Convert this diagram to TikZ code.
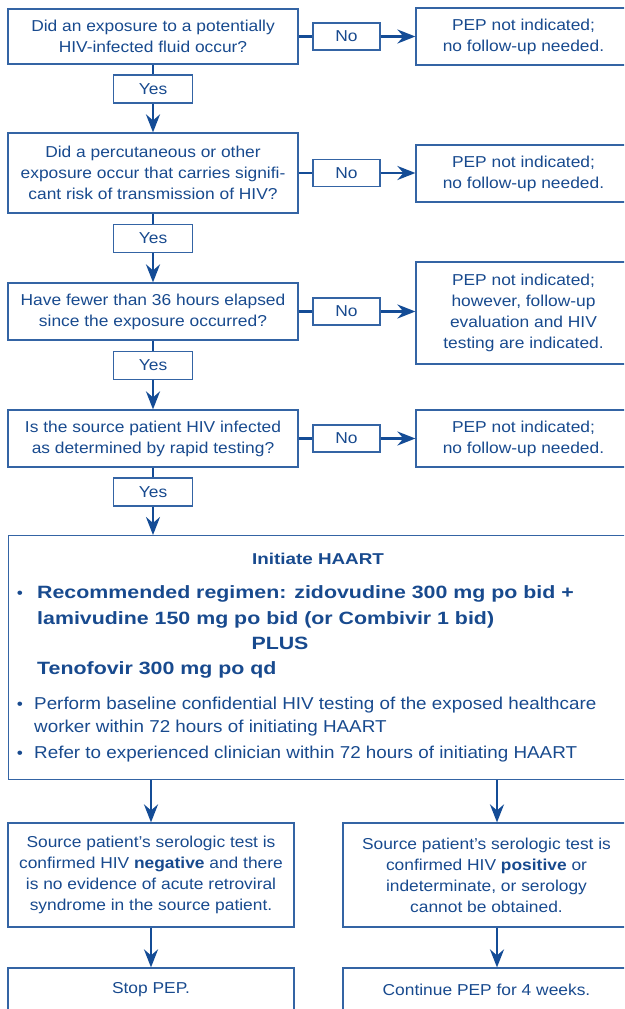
\documentclass[tikz,border=0pt]{standalone}
\usepackage{fontspec}
\setmainfont{Liberation Sans}[FakeStretch=1.1]
\newfontfamily\bulfam{Liberation Sans}[FakeStretch=1.095]
\newfontfamily\hbfam{Liberation Sans}[FakeStretch=1.2]
\usetikzlibrary{arrows.meta}
\definecolor{txtblue}{RGB}{24,74,142}
\definecolor{lnblue}{RGB}{20,76,150}
\definecolor{bxblue}{RGB}{52,100,164}
\newcommand\boxfs{\fontsize{15.8}{21}\selectfont}
\newcommand\bulfs{\bulfam\fontsize{17.2}{23}\selectfont}
\newcommand\hbfs{\hbfam\bfseries\fontsize{17.8}{25.5}\selectfont}
\newcommand\headfs{\hbfam\bfseries\fontsize{15.7}{19}\selectfont}
\tikzset{
  box/.style={draw=bxblue, line width=1.2pt, text=txtblue, align=center, inner sep=0pt, font=\boxfs},
  lab/.style={box, minimum width=67pt, minimum height=27pt},
  yeslab/.style={box, minimum width=79pt, minimum height=28pt},
  qbox/.style={box, minimum width=290pt},
  rbox/.style={box, minimum width=215pt},
  ln/.style={draw=lnblue, line width=2.6pt},
  arr/.style={ln, -{Stealth[length=18pt,width=14pt,inset=6pt]}},
  txt/.style={text=txtblue, inner sep=0pt},
}
\begin{document}
\begin{tikzpicture}[x=1pt,y=-1pt]
\useasboundingbox (0,0) rectangle (624,1009);
\clip (0,0) rectangle (624,1009);
% row 1
\node[qbox, minimum height=55pt] (q1) at (153,36.5) {Did an exposure to a potentially\\HIV-infected fluid occur?};
\node[lab] (no1) at (346.5,36.5) {No};
\node[rbox, minimum height=57pt] (r1) at (523.5,36.5) {PEP not indicated;\\no follow-up needed.};
\node[yeslab] (y1) at (153,89) {Yes};
% row 2
\node[qbox, minimum height=80pt] (q2) at (153,173) {Did a percutaneous or other\\exposure occur that carries signifi-\\cant risk of transmission of HIV?};
\node[lab] (no2) at (346.5,173) {No};
\node[rbox, minimum height=57pt] (r2) at (523.5,173.5) {PEP not indicated;\\no follow-up needed.};
\node[yeslab] (y2) at (153,238.5) {Yes};
% row 3
\node[qbox, minimum height=57pt] (q3) at (153,311.5) {Have fewer than 36 hours elapsed\\since the exposure occurred?};
\node[lab] (no3) at (346.5,311.5) {No};
\node[rbox, minimum height=102pt] (r3) at (523.5,313) {PEP not indicated;\\however, follow-up\\evaluation and HIV\\testing are indicated.};
\node[yeslab] (y3) at (153,365.5) {Yes};
% row 4
\node[qbox, minimum height=57pt] (q4) at (153,438.5) {Is the source patient HIV infected\\as determined by rapid testing?};
\node[lab] (no4) at (346.5,438.5) {No};
\node[rbox, minimum height=57pt] (r4) at (523.5,438.5) {PEP not indicated;\\no follow-up needed.};
\node[yeslab] (y4) at (153,492) {Yes};
% big box
\node[box, minimum width=622pt, minimum height=244pt, anchor=north west] (big) at (8,535) {};
\node[txt, font=\headfs, anchor=base] (hd) at (318,564) {Initiate HAART};
\node[txt, font=\boxfs, anchor=base] (d1) at (20,598) {•};
\node[txt, font=\hbfs, anchor=base west] (reg1) at (37,598) {Recommended regimen: zidovudine 300 mg po bid +};
\node[txt, font=\hbfs, anchor=base west] (reg2) at (37,624) {lamivudine 150 mg po bid (or Combivir 1 bid)};
\node[txt, font=\hbfs, anchor=base] (plus) at (280,649) {PLUS};
\node[txt, font=\hbfs, anchor=base west] (teno) at (37,674) {Tenofovir 300 mg po qd};
\node[txt, font=\boxfs, anchor=base] (d2) at (20,709) {•};
\node[txt, font=\bulfs, anchor=base west] (perf1) at (34,709) {Perform baseline confidential HIV testing of the exposed healthcare};
\node[txt, font=\bulfs, anchor=base west] (perf2) at (34,732) {worker within 72 hours of initiating HAART};
\node[txt, font=\boxfs, anchor=base] (d3) at (20,758) {•};
\node[txt, font=\bulfs, anchor=base west] (refer) at (34,758) {Refer to experienced clinician within 72 hours of initiating HAART};
% bottom
\node[box, minimum width=286pt, minimum height=104pt] (b1) at (151,875) {Source patient’s serologic test is\\confirmed HIV \textbf{negative} and there\\is no evidence of acute retroviral\\syndrome in the source patient.};
\node[box, minimum width=287pt, minimum height=104pt] (b2) at (486.5,875) {Source patient’s serologic test is\\confirmed HIV \textbf{positive} or\\indeterminate, or serology\\cannot be obtained.};
\node[box, minimum width=286pt, minimum height=44pt] (s1) at (151,990) {Stop PEP.};
\node[box, minimum width=287pt, minimum height=44pt] (s2) at (486.5,990) {Continue PEP for 4 weeks.};
\coordinate (cl) at (151,0);
\coordinate (cr) at (497,0);
% connectors
\foreach \i in {1,2,3,4}{
  \draw[ln] (q\i.east |- no\i.west) -- (no\i.west);
  \draw[arr] (no\i.east) -- (no\i.east -| r\i.west);
  \draw[ln] (q\i.south) -- (y\i.north);
}
\draw[arr] (y1.south) -- (q2.north);
\draw[arr] (y2.south) -- (q3.north);
\draw[arr] (y3.south) -- (q4.north);
\draw[arr] (y4.south) -- (y4.south |- big.north);
\draw[arr] (big.south -| cl) -- (b1.north -| cl);
\draw[arr] (big.south -| cr) -- (b2.north -| cr);
\draw[arr] (b1.south -| cl) -- (s1.north -| cl);
\draw[arr] (b2.south -| cr) -- (s2.north -| cr);
\end{tikzpicture}
\end{document}
